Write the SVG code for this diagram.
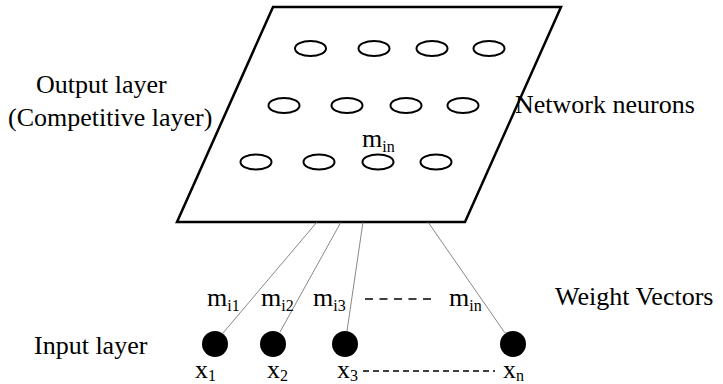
<svg xmlns="http://www.w3.org/2000/svg" width="723" height="384" viewBox="0 0 723 384" font-family="'Liberation Serif', Tinos, 'Times New Roman', Times, 'DejaVu Serif', serif">
  <style>
    text { font-family: 'Liberation Serif', Tinos, 'Times New Roman', Times, 'DejaVu Serif', serif; fill: #000; }
    .lbl { font-size: 26px; }
    .sub { font-size: 16px; }
    .plane { fill: #fff; stroke: #000; stroke-width: 2.5; stroke-linejoin: miter; }
    .neuron { fill: none; stroke: #000; stroke-width: 2; }
    .input { fill: #000; }
    .wire { stroke: #6a6a6a; stroke-width: 0.8; fill: none; }
    .dash-a { stroke: #000; stroke-width: 1.5; stroke-dasharray: 8 6.5; }
    .dash-b { stroke: #000; stroke-width: 1.5; stroke-dasharray: 6 4; }
  </style>

  <!-- competitive (output) layer -->
  <g id="output-layer">
    <polygon class="plane" points="273,7 561,7 465,222 177,222"/>
    <g id="neurons">
      <ellipse class="neuron" cx="310.5" cy="48.5" rx="15.5" ry="7.5"/>
      <ellipse class="neuron" cx="374" cy="48.5" rx="15.5" ry="7.5"/>
      <ellipse class="neuron" cx="432" cy="48.5" rx="15.5" ry="7.5"/>
      <ellipse class="neuron" cx="489" cy="48.5" rx="15.5" ry="7.5"/>
      <ellipse class="neuron" cx="284" cy="105.5" rx="15.5" ry="7.5"/>
      <ellipse class="neuron" cx="347" cy="105.5" rx="15.5" ry="7.5"/>
      <ellipse class="neuron" cx="406" cy="105.5" rx="15.5" ry="7.5"/>
      <ellipse class="neuron" cx="463" cy="105.5" rx="15.5" ry="7.5"/>
      <ellipse class="neuron" cx="256" cy="162" rx="15.5" ry="7.5"/>
      <ellipse class="neuron" cx="319" cy="162" rx="15.5" ry="7.5"/>
      <ellipse class="neuron" cx="378" cy="162" rx="15.5" ry="7.5"/>
      <ellipse class="neuron" cx="436" cy="162" rx="15.5" ry="7.5"/>
    </g>
    <text class="lbl" x="362" y="147">m<tspan class="sub" dy="5">in</tspan></text>
  </g>

  <!-- weight connections -->
  <g id="connectors">
    <line class="wire" x1="317" y1="222" x2="223" y2="333"/>
    <line class="wire" x1="341" y1="222" x2="280" y2="332"/>
    <line class="wire" x1="363" y1="222" x2="347" y2="331"/>
    <line class="wire" x1="428" y1="222" x2="505" y2="333"/>
    <line class="dash-a" x1="365" y1="299" x2="436" y2="299"/>
    <line class="dash-b" x1="363" y1="371" x2="495" y2="371"/>
  </g>

  <!-- input nodes -->
  <g id="x1">
    <circle class="input" cx="215" cy="344" r="13"/>
    <text class="lbl" x="195" y="378">x<tspan class="sub" dy="3">1</tspan></text>
  </g>
  <g id="x2">
    <circle class="input" cx="273" cy="344" r="13"/>
    <text class="lbl" x="267" y="378">x<tspan class="sub" dy="3">2</tspan></text>
  </g>
  <g id="x3">
    <circle class="input" cx="345" cy="344" r="13"/>
    <text class="lbl" x="337" y="378">x<tspan class="sub" dy="3">3</tspan></text>
  </g>
  <g id="xn">
    <circle class="input" cx="513" cy="344" r="13"/>
    <text class="lbl" x="503" y="378">x<tspan class="sub" dy="3">n</tspan></text>
  </g>

  <!-- weight labels -->
  <g id="weights">
    <text class="lbl" x="207" y="306">m<tspan class="sub" dy="5">i1</tspan></text>
    <text class="lbl" x="261" y="306">m<tspan class="sub" dy="5">i2</tspan></text>
    <text class="lbl" x="313" y="306">m<tspan class="sub" dy="5">i3</tspan></text>
    <text class="lbl" x="449" y="306">m<tspan class="sub" dy="5">in</tspan></text>
  </g>

  <!-- captions -->
  <g id="captions">
    <text class="lbl" x="36" y="93">Output layer</text>
    <text class="lbl" x="8" y="126">(Competitive layer)</text>
    <text class="lbl" x="515" y="113">Network neurons</text>
    <text class="lbl" x="555" y="305">Weight Vectors</text>
    <text class="lbl" x="34" y="354">Input layer</text>
  </g>
</svg>
